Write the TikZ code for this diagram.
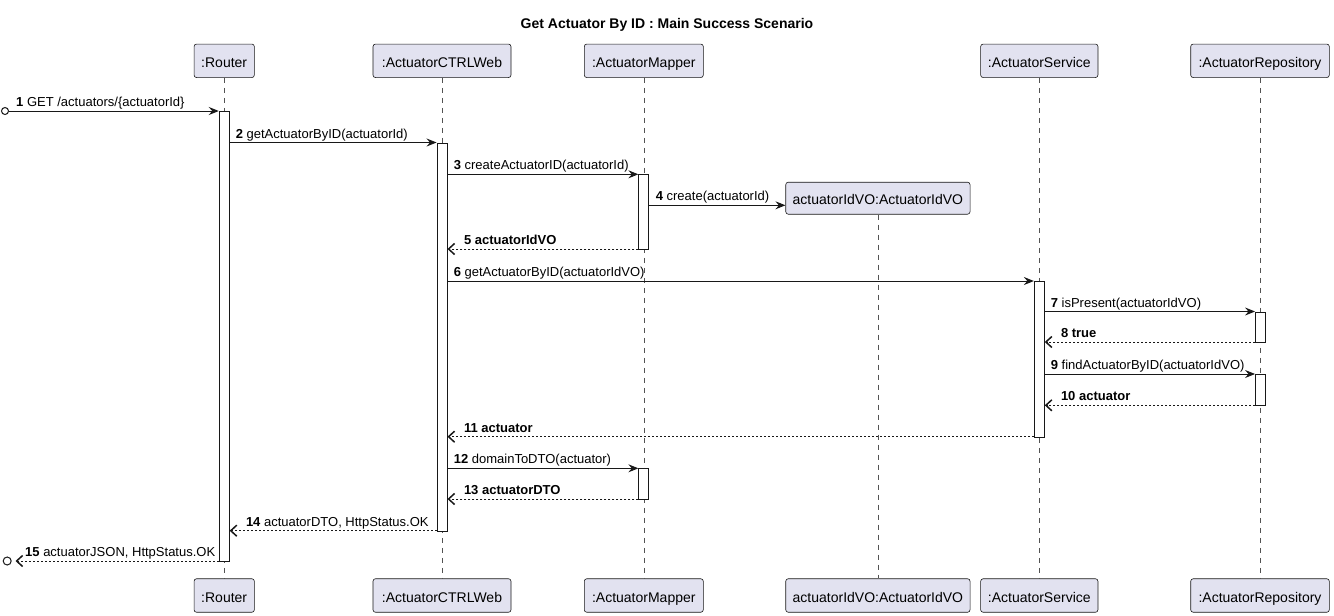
\documentclass[tikz,border=0pt]{standalone}
\usepackage{fontspec}
\setmainfont{Liberation Sans}
\usetikzlibrary{arrows.meta}
\definecolor{partfill}{HTML}{E2E2F0}
\definecolor{linec}{HTML}{181818}
\tikzset{
  part/.style={draw=linec, fill=partfill, rounded corners=2.5pt, line width=0.6pt, inner sep=0pt, minimum height=33.5pt, text height=14pt, text depth=0.6pt, font=\fontsize{14}{16}\selectfont},
  actbar/.style={draw=linec, fill=white, line width=0.9pt, minimum width=10pt, inner sep=0pt, anchor=north},
  life/.style={draw=linec!75, line width=0.6pt, dash pattern=on 5pt off 5pt},
  msg/.style={draw=linec, line width=0.9pt, -{Stealth[length=10pt,width=8pt,inset=3.5pt]}},
  ret/.style={draw=linec, line width=0.9pt, dash pattern=on 2pt off 2pt, -{Straight Barb[length=6pt,width=11pt,line width=1.5pt]}},
  lab/.style={anchor=base west, inner sep=0pt, font=\fontsize{13}{15}\selectfont},
  endpt/.style={circle, draw=linec, fill=white, line width=1pt, inner sep=0pt, minimum size=7pt}
}
\begin{document}
\begin{tikzpicture}[x=1pt,y=-1pt]
\fill[white] (0,0) rectangle (1334,616);
\useasboundingbox (0,0) rectangle (1334,616);

\node[font=\fontsize{14}{16}\selectfont\bfseries] (title) at (667,25) {Get Actuator By ID : Main Success Scenario};

% participants top
\node[part, minimum width=60.3pt] (pR) at (224.2,60.8) {:Router};
\node[part, minimum width=138pt] (pC) at (442,60.8) {:ActuatorCTRLWeb};
\node[part, minimum width=119pt] (pM) at (643.8,60.8) {:ActuatorMapper};
\node[part, minimum width=117.3pt] (pS) at (1039.3,60.8) {:ActuatorService};
\node[part, minimum width=138.6pt] (pP) at (1260,60.8) {:ActuatorRepository};
\node[part, minimum width=184.3pt, minimum height=32pt] (pV) at (877.9,198.2) {actuatorIdVO:ActuatorIdVO};
% participants bottom
\node[part, minimum width=60.3pt] (bR) at (224.2,595.5) {:Router};
\node[part, minimum width=138pt] (bC) at (442,595.5) {:ActuatorCTRLWeb};
\node[part, minimum width=119pt] (bM) at (643.8,595.5) {:ActuatorMapper};
\node[part, minimum width=184.3pt] (bV) at (877.9,595.5) {actuatorIdVO:ActuatorIdVO};
\node[part, minimum width=117.3pt] (bS) at (1039.3,595.5) {:ActuatorService};
\node[part, minimum width=138.6pt] (bP) at (1260,595.5) {:ActuatorRepository};

% lifelines
\draw[life] (pR.south) -- (bR.north);
\draw[life] (pC.south) -- (bC.north);
\draw[life] (pM.south) -- (bM.north);
\draw[life] (pV.south) -- (bV.north);
\draw[life] (pS.south) -- (bS.north);
\draw[life] (pP.south) -- (bP.north);

% activation bars
\node[actbar, minimum height=450pt] (aR) at (224.2,111) {};
\node[actbar, minimum height=388.2pt] (aC) at (442,142.5) {};
\node[actbar, minimum height=74.7pt] (aM1) at (643.8,174.3) {};
\node[actbar, minimum height=155.7pt] (aS) at (1039.3,281) {};
\node[actbar, minimum height=30.5pt] (aP1) at (1260.5,311.5) {};
\node[actbar, minimum height=31.3pt] (aP2) at (1260.5,374) {};
\node[actbar, minimum height=30.7pt] (aM2) at (643.8,468.3) {};

% message rows
\coordinate (y1) at (0,111);
\coordinate (y2) at (0,142.5);
\coordinate (y3) at (0,174.3);
\coordinate (y4) at (0,205.3);
\coordinate (y5) at (0,249);
\coordinate (y6) at (0,281);
\coordinate (y7) at (0,311.5);
\coordinate (y8) at (0,342);
\coordinate (y9) at (0,374);
\coordinate (y10) at (0,405.3);
\coordinate (y11) at (0,436.7);
\coordinate (y12) at (0,468.3);
\coordinate (y13) at (0,499);
\coordinate (y14) at (0,530.7);
\coordinate (y15) at (0,561);

\node[endpt] (c1) at (5,111) {};
\node[endpt, minimum size=8pt] (c15) at (7.2,561) {};
\coordinate (e15) at (15.5,561);

\draw[msg] (c1.east) -- (aR.west |- y1);
\draw[msg] (aR.east |- y2) -- (aC.west |- y2);
\draw[msg] (aC.east |- y3) -- (aM1.west |- y3);
\draw[msg] (aM1.east |- y4) -- (pV.west |- y4);
\draw[ret] (aM1.west |- y5) -- (aC.east |- y5);
\draw[msg] (aC.east |- y6) -- (aS.west |- y6);
\draw[msg] (aS.east |- y7) -- (aP1.west |- y7);
\draw[ret] (aP1.west |- y8) -- (aS.east |- y8);
\draw[msg] (aS.east |- y9) -- (aP2.west |- y9);
\draw[ret] (aP2.west |- y10) -- (aS.east |- y10);
\draw[ret] (aS.west |- y11) -- (aC.east |- y11);
\draw[msg] (aC.east |- y12) -- (aM2.west |- y12);
\draw[ret] (aM2.west |- y13) -- (aC.east |- y13);
\draw[ret] (aC.west |- y14) -- (aR.east |- y14);
\draw[ret] (aR.west |- y15) -- (e15);

% labels
\node[lab] (l1) at (16,106.5) {\textbf{1} GET /actuators/\{actuatorId\}};
\node[lab] (l2) at (235.6,138) {\textbf{2} getActuatorByID(actuatorId)};
\node[lab] (l3) at (453.6,169.8) {\textbf{3} createActuatorID(actuatorId)};
\node[lab] (l4) at (655.6,200.8) {\textbf{4} create(actuatorId)};
\node[lab] (l5) at (463.8,244.5) {\textbf{5 actuatorIdVO}};
\node[lab] (l6) at (453.6,276.5) {\textbf{6} getActuatorByID(actuatorIdVO)};
\node[lab] (l7) at (1050.6,307) {\textbf{7} isPresent(actuatorIdVO)};
\node[lab] (l8) at (1060.8,337.5) {\textbf{8 true}};
\node[lab] (l9) at (1050.6,369.5) {\textbf{9} findActuatorByID(actuatorIdVO)};
\node[lab] (l10) at (1060.8,400.8) {\textbf{10 actuator}};
\node[lab] (l11) at (463.8,432.2) {\textbf{11 actuator}};
\node[lab] (l12) at (453.6,463.8) {\textbf{12} domainToDTO(actuator)};
\node[lab] (l13) at (463.8,494.5) {\textbf{13 actuatorDTO}};
\node[lab] (l14) at (245.8,526.2) {\textbf{14} actuatorDTO, HttpStatus.OK};
\node[lab] (l15) at (25,556.5) {\textbf{15} actuatorJSON, HttpStatus.OK};
\end{tikzpicture}
\end{document}
